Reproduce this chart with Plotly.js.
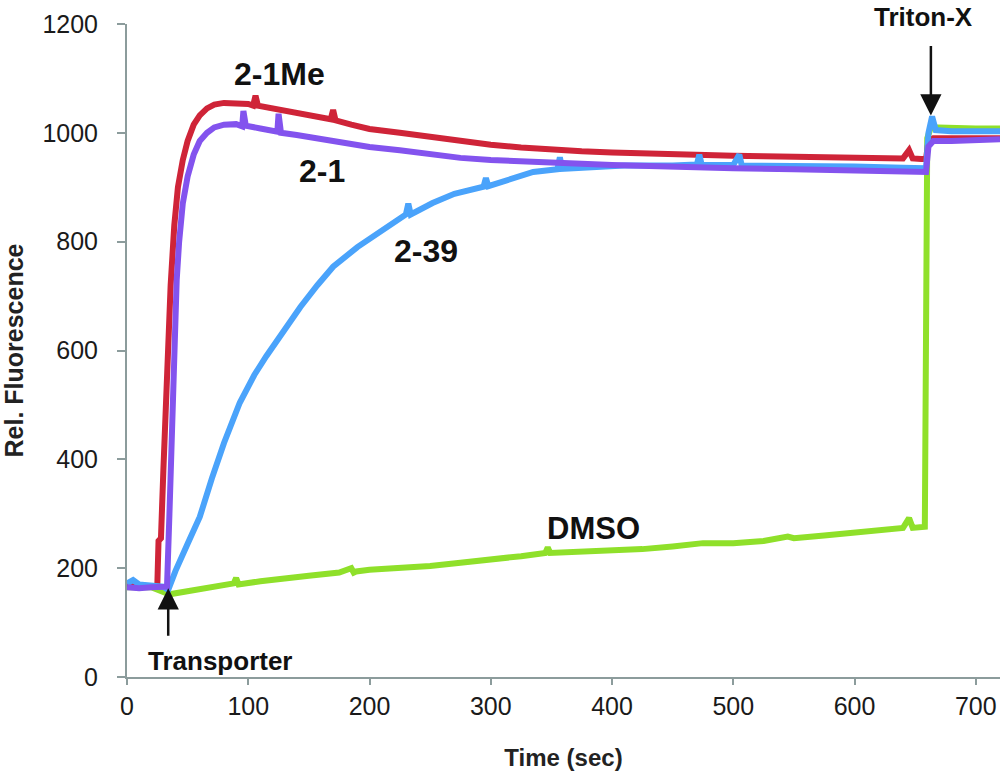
<!DOCTYPE html>
<html>
<head>
<meta charset="utf-8">
<script src="https://cdn.plot.ly/plotly-3.0.1.min.js"></script>
<style>html,body{margin:0;padding:0;background:#fff;}#chart{width:1003px;height:778px;}</style>
</head>
<body>
<div id="chart"></div>
<script>
// Time (sec) and relative fluorescence values
const dmsoX = [0, 20, 35, 50, 70, 88, 90, 92, 110, 130, 150, 175, 185, 187, 189, 200, 225, 250, 275, 300, 325, 345, 347, 349, 375, 400, 425, 450, 475, 500, 525, 545, 550, 575, 600, 625, 640, 645, 648, 658, 660, 663, 680, 700, 720];
const dmsoY = [165, 165, 152, 158, 164, 172, 182, 170, 176, 180, 186, 192, 200, 192, 194, 197, 200, 204, 210, 215, 222, 228, 238, 228, 230, 232, 235, 240, 246, 246, 250, 258, 255, 260, 265, 270, 274, 292, 274, 276, 990, 1010, 1008, 1008, 1008];

const meX = [0, 10, 20, 25, 26, 28, 30, 33, 36, 39, 42, 46, 50, 55, 60, 66, 72, 80, 90, 100, 104, 106, 108, 120, 135, 150, 168, 170, 172, 185, 200, 225, 250, 275, 300, 325, 350, 375, 400, 425, 450, 475, 500, 525, 550, 575, 600, 625, 640, 645, 648, 655, 659, 661, 665, 680, 700, 720];
const meY = [168, 166, 167, 168, 250, 255, 380, 560, 720, 830, 900, 950, 985, 1015, 1032, 1045, 1052, 1055, 1055, 1053, 1050, 1068, 1050, 1045, 1038, 1032, 1025, 1042, 1023, 1015, 1007, 1000, 992, 985, 978, 973, 969, 966, 964, 962, 961, 960, 958, 957, 956, 955, 955, 954, 953, 968, 953, 952, 952, 985, 990, 990, 990, 990];

const c39X = [0, 5, 10, 20, 30, 34, 40, 50, 60, 70, 80, 93, 105, 115, 130, 143, 157, 170, 190, 211, 230, 232, 234, 252, 270, 294, 296, 298, 315, 335, 355, 357, 359, 390, 410, 450, 470, 472, 474, 500, 505, 507, 550, 600, 640, 659, 661, 664, 667, 680, 700, 720];
const c39Y = [172, 178, 170, 168, 166, 160, 195, 245, 294, 365, 430, 504, 555, 590, 640, 680, 720, 754, 790, 822, 850, 870, 850, 871, 888, 901, 917, 902, 915, 928, 933, 955, 934, 938, 940, 940, 942, 960, 941, 941, 960, 940, 940, 938, 936, 935, 1000, 1030, 1005, 1003, 1003, 1003];

const c21X = [0, 10, 20, 30, 33, 35, 37, 39, 41, 43, 46, 50, 55, 60, 66, 72, 80, 90, 95, 96, 98, 110, 124, 125, 127, 140, 155, 175, 200, 225, 250, 275, 300, 325, 350, 375, 400, 425, 450, 475, 500, 550, 600, 630, 655, 659, 661, 665, 680, 700, 720];
const c21Y = [165, 163, 165, 165, 166, 300, 480, 620, 730, 800, 870, 920, 960, 985, 1000, 1010, 1015, 1016, 1012, 1040, 1013, 1008, 1002, 1035, 1000, 996, 990, 982, 974, 968, 960, 954, 950, 947, 945, 943, 941, 939, 938, 936, 935, 933, 931, 930, 928, 928, 975, 985, 985, 987, 988];

const xTicks = [0, 100, 200, 300, 400, 500, 600, 700];
const yTicks = [0, 200, 400, 600, 800, 1000, 1200];

const font = 'Liberation Sans, Arial, Helvetica, sans-serif';
const traces = [
  {x: dmsoX, y: dmsoY, name: 'DMSO', mode: 'lines', line: {color: '#8fe02a', width: 6}},
  {x: meX, y: meY, name: '2-1Me', mode: 'lines', line: {color: '#cf2438', width: 6}},
  {x: c39X, y: c39Y, name: '2-39', mode: 'lines', line: {color: '#4aa3fb', width: 6}},
  {x: c21X, y: c21Y, name: '2-1', mode: 'lines', line: {color: '#8353ee', width: 6}}
];

const axisCommon = {
  showgrid: false, zeroline: false, showline: true,
  linecolor: '#8c9c9c', linewidth: 2, ticks: 'outside', tickcolor: '#8c9c9c',
  tickwidth: 2, tickfont: {family: font, size: 25, color: '#1a1a1a'}
};

const lbl = (text, x, y, size) => ({text: '<b>' + text + '</b>', x: x, y: y, xref: 'x', yref: 'y',
  showarrow: false, font: {family: font, size: size, color: '#111'}});
const arrow = (x, y, ay) => ({text: '', x: x, y: y, xref: 'x', yref: 'y', showarrow: true,
  ax: 0, ay: ay, arrowhead: 2, arrowsize: 1.7, arrowwidth: 2.5, arrowcolor: '#111', standoff: 1});

const layout = {
  width: 1003, height: 778,
  margin: {l: 127, r: 3, t: 24, b: 101},
  paper_bgcolor: '#fff', plot_bgcolor: '#fff',
  showlegend: false,
  xaxis: Object.assign({}, axisCommon, {range: [0, 720], tickvals: xTicks, ticklen: 6,
    title: {text: '<b>Time (sec)</b>', font: {family: font, size: 24, color: '#222'}, standoff: 30}}),
  yaxis: Object.assign({}, axisCommon, {range: [0, 1200], tickvals: yTicks, ticklen: 8, ticklabelstandoff: 14,
    title: {text: '<b>Rel. Fluorescence</b>', font: {family: font, size: 25, color: '#222'}, standoff: 12}}),
  annotations: [
    lbl('2-1Me', 126, 1108, 32),
    lbl('2-1', 161, 930, 32),
    lbl('2-39', 247, 782, 32),
    lbl('DMSO', 385, 272, 31),
    lbl('Transporter', 77, 30, 26),
    {text: '<b>Triton-X</b>', x: 657, xref: 'x', y: 1.01, yref: 'paper', yanchor: 'middle',
     showarrow: false, font: {family: font, size: 26, color: '#111'}},
    arrow(34, 165, 50),
    arrow(663, 1030, -72)
  ]
};

Plotly.newPlot('chart', traces, layout, {staticPlot: true, displayModeBar: false});
</script>
</body>
</html>
